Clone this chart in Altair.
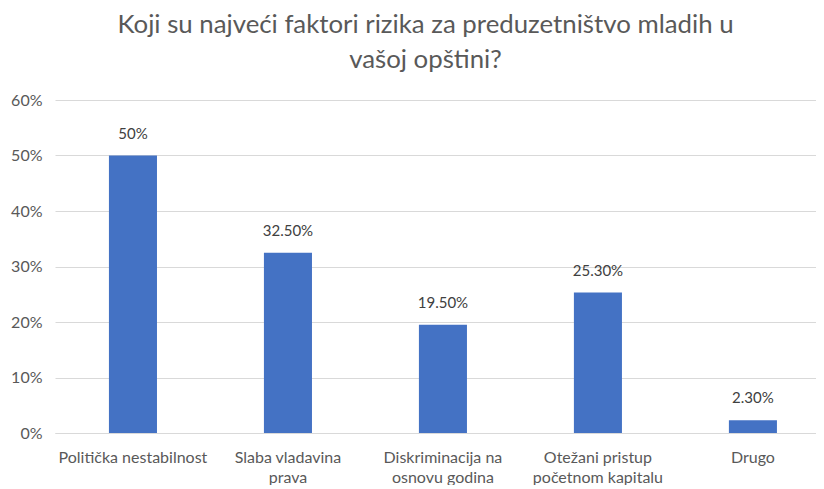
import altair as alt
import pandas as pd

categories = [
    "Politička nestabilnost",
    "Slaba vladavina\nprava",
    "Diskriminacija na\nosnovu godina",
    "Otežani pristup\npočetnom kapitalu",
    "Drugo",
]
values = [0.50, 0.325, 0.195, 0.253, 0.023]
value_labels = ["50%", "32.50%", "19.50%", "25.30%", "2.30%"]

df = pd.DataFrame({"cat": categories, "val": values, "lab": value_labels})

FONT = "Lato"
GREY = "#595959"

x = alt.X(
    "cat:N",
    sort=None,
    title=None,
    scale=alt.Scale(paddingInner=0.69, paddingOuter=0.30, align=0.58),
    axis=alt.Axis(
        labelAngle=0,
        labelExpr="split(datum.value, '\\n')",
        labelLineHeight=20,
        labelFontSize=16,
        labelColor=GREY,
        labelFont=FONT,
        labelPadding=16,
        domain=True,
        domainColor="#d9d9d9",
        ticks=False,
        labelLimit=220,
    ),
)
y = alt.Y(
    "val:Q",
    title=None,
    scale=alt.Scale(domain=[0, 0.6]),
    axis=alt.Axis(
        format=".0%",
        values=[0, 0.1, 0.2, 0.3, 0.4, 0.5, 0.6],
        labelFontSize=16,
        labelColor=GREY,
        labelFont=FONT,
        labelPadding=13,
        domain=False,
        ticks=False,
        gridColor="#d9d9d9",
        minExtent=47,
        maxExtent=47,
    ),
)

bars = alt.Chart(df).mark_bar(color="#4472C4").encode(x=x, y=y)
text = alt.Chart(df).mark_text(
    dy=-14, font=FONT, fontSize=15, color="#404040", baseline="bottom"
).encode(x=x, y=y, text="lab:N")

chart = (
    (bars + text)
    .properties(
        width=761,
        height=333,
        padding={"left": 0, "top": 4, "right": 0, "bottom": 0},
        title=alt.TitleParams(
            text=["Koji su najveći faktori rizika za preduzetništvo mladih u", "vašoj opštini?"],
            font=FONT,
            fontSize=25.8,
            fontWeight="normal",
            color=GREY,
            lineHeight=35,
            anchor="middle",
            dx=-10,
            offset=18,
        ),
    )
    .configure_view(stroke=None)
)

chart.save("out.html", embed_options={"renderer": "svg", "actions": False})
